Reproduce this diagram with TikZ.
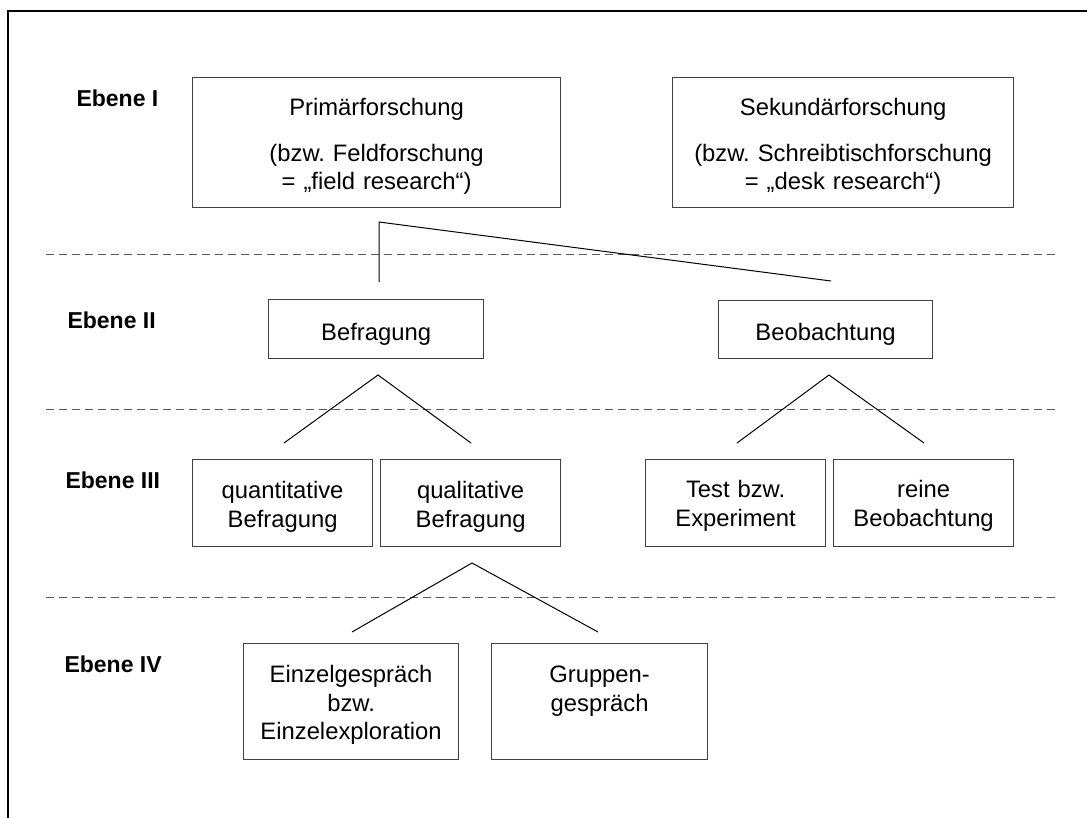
\documentclass[tikz,border=0pt]{standalone}
\usepackage{fontspec}
\setmainfont{Liberation Sans}
\frenchspacing
\begin{document}
\begin{tikzpicture}[x=1pt,y=-1pt,
  box/.style={draw=boxgray, line width=1.2pt, inner sep=0pt, align=center,
    anchor=north west, font=\fontsize{23.8}{28.5}\selectfont},
  level/.style={anchor=base west, font=\fontsize{23}{28}\selectfont\bfseries},
  link/.style={draw=black, line width=1pt},
  divider/.style={draw=divgray, line width=1pt, dash pattern=on 8pt off 5pt},
  frame/.style={draw=black, line width=2pt}]
\definecolor{boxgray}{HTML}{404040}
\definecolor{divgray}{HTML}{5A5A5A}
\useasboundingbox (0,0) rectangle (1087,818);

% outer frame (top and left edges)
\draw[frame] (7,11) -- (1087,11);
\draw[frame] (8,10) -- (8,818);

% level dividers
\draw[divider] (46,255) -- (1056,255);
\draw[divider] (46,409) -- (1056,409);
\draw[divider] (46,597) -- (1056,597);

% level labels
\node[level] (l1) at (73,107) {Ebene I};
\node[level] (l2) at (64,329) {Ebene II};
\node[level] (l3) at (62,488) {Ebene III};
\node[level] (l4) at (61,672) {Ebene IV};

% level I
\node[box, text width=368pt, text height=38pt, text depth=92pt] (prim) at (192,77)
  {Primärforschung\\[17pt](bzw. Feldforschung\\= „field research“)};
\node[box, text width=341pt, text height=38pt, text depth=92pt] (sek) at (672,77)
  {Sekundärforschung\\[17pt](bzw. Schreibtischforschung\\= „desk research“)};

% level II
\node[box, text width=215pt, text height=41pt, text depth=18pt] (bef) at (268,299) {Befragung};
\node[box, text width=214pt, text height=40pt, text depth=18pt] (beo) at (718,300) {Beobachtung};

% level III
\node[box, text width=180pt, text height=39pt, text depth=48pt] (quant) at (192,459) {quantitative\\Befragung};
\node[box, text width=180pt, text height=39pt, text depth=48pt] (qual) at (380,459) {qualitative\\Befragung};
\node[box, text width=180pt, text height=38pt, text depth=49pt] (test) at (645,459) {Test bzw.\\Experiment};
\node[box, text width=180pt, text height=38pt, text depth=49pt] (rein) at (833,459) {reine\\Beobachtung};

% level IV
\node[box, text width=215pt, text height=39pt, text depth=77pt] (einz) at (243,643) {Einzelgespräch\\bzw.\\Einzelexploration};
\node[box, text width=216pt, text height=39pt, text depth=77pt] (grup) at (491,643) {Gruppen-\\gespräch};

% branching points and free line ends
\coordinate (primFork) at (379,222);
\coordinate (befEnd) at (379,282);
\coordinate (beoEnd) at (831,281);
\coordinate (befApex) at (378,375);
\coordinate (quantEnd) at (284,443);
\coordinate (qualEnd) at (471,443);
\coordinate (beoApex) at (829,375);
\coordinate (testEnd) at (737,443);
\coordinate (reinEnd) at (924,443);
\coordinate (qualApex) at (472,563);
\coordinate (einzEnd) at (352,632);
\coordinate (grupEnd) at (598,632);

% connectors
\draw[link] (befEnd) -- (primFork) -- (beoEnd);
\draw[link] (quantEnd) -- (befApex) -- (qualEnd);
\draw[link] (testEnd) -- (beoApex) -- (reinEnd);
\draw[link] (einzEnd) -- (qualApex) -- (grupEnd);
\end{tikzpicture}
\end{document}
